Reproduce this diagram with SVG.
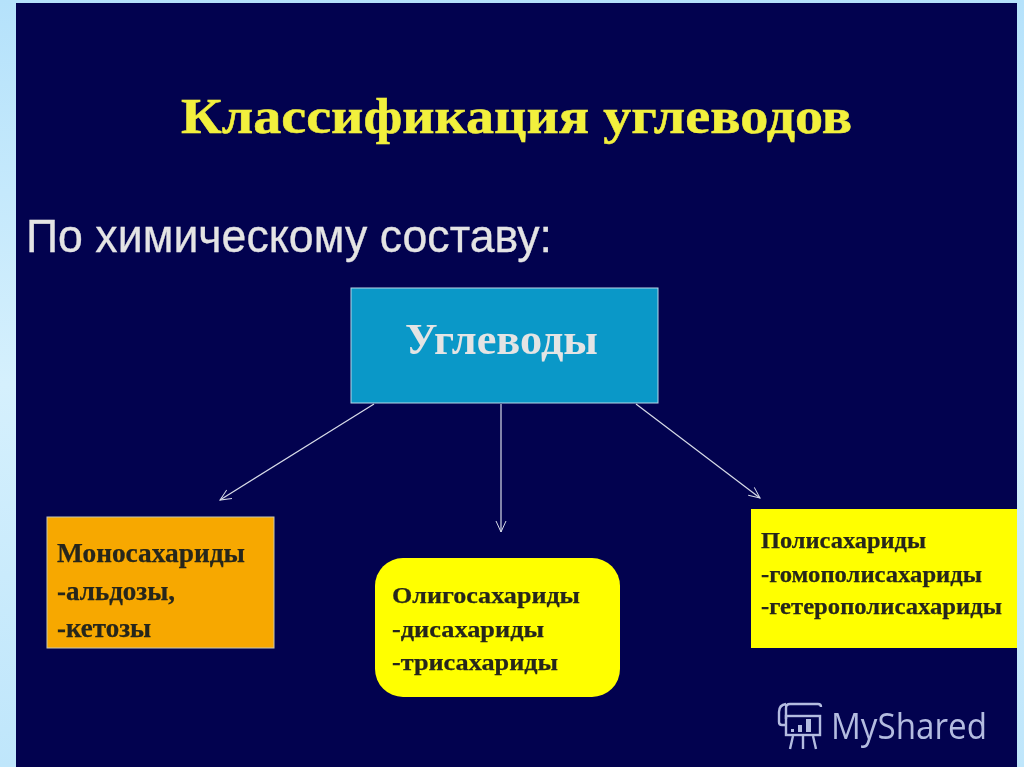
<svg xmlns="http://www.w3.org/2000/svg" width="1024" height="767" viewBox="0 0 1024 767">
<defs>
<linearGradient id="bg" x1="0" y1="0" x2="0" y2="1"><stop offset="0" stop-color="#b5e2fb"/><stop offset="0.5" stop-color="#d5f0fd"/><stop offset="1" stop-color="#bfe6fb"/></linearGradient>
<marker id="arr" markerWidth="14" markerHeight="14" refX="12" refY="6" orient="auto" markerUnits="userSpaceOnUse"><path d="M1 1L12 6L1 11" fill="none" stroke="#d8dce8" stroke-width="1"/></marker>
<filter id="soft" x="-5%" y="-20%" width="110%" height="140%"><feGaussianBlur stdDeviation="0.55"/></filter>
</defs>
<style>
.s{font-family:"Liberation Serif",serif;font-weight:bold;fill:#26261c;stroke:#26261c;stroke-width:0.25;filter:url(#soft)}
.c{stroke:#d8dce8;stroke-width:1.2;fill:none;marker-end:url(#arr)}
.l{fill:none;stroke:#b4bce0;stroke-width:2.4}
</style>
<rect width="1024" height="767" fill="url(#bg)"/>
<rect x="16" y="3" width="1001" height="764" fill="#02024f"/>
<text x="181" y="133" font-family="'Liberation Serif',serif" font-weight="bold" font-size="50" fill="#f2f03c" stroke="#f2f03c" stroke-width="0.5" filter="url(#soft)" textLength="671" lengthAdjust="spacingAndGlyphs">Классификация углеводов</text>
<text x="26" y="252" font-family="'Liberation Sans',sans-serif" font-size="47" fill="#e4e4e4" stroke="#e4e4e4" stroke-width="0.3" filter="url(#soft)" textLength="526" lengthAdjust="spacingAndGlyphs">По химическому составу:</text>
<g id="connectors">
<line class="c" x1="374" y1="404" x2="220" y2="500"/>
<line class="c" x1="501" y1="404" x2="501" y2="532"/>
<line class="c" x1="636" y1="404" x2="760" y2="498"/>
</g>
<g id="root"><rect x="351" y="288" width="307" height="115" fill="#0a98c8" stroke="#b8d8e8" stroke-width="1"/>
<text x="405" y="354" font-family="'Liberation Serif',serif" font-weight="bold" font-size="44" fill="#e4e4e4" filter="url(#soft)" textLength="193" lengthAdjust="spacingAndGlyphs">Углеводы</text></g>
<g id="mono"><rect x="47" y="517" width="227" height="131" fill="#f7a800" stroke="#c8c8b0"/>
<text class="s" x="57" y="562" font-size="27" textLength="188" lengthAdjust="spacingAndGlyphs">Моносахариды</text>
<text class="s" x="57" y="600" font-size="27" textLength="118" lengthAdjust="spacingAndGlyphs">-альдозы,</text>
<text class="s" x="57" y="637" font-size="27" textLength="94" lengthAdjust="spacingAndGlyphs">-кетозы</text></g>
<g id="oligo"><rect x="375" y="558" width="245" height="139" rx="28" fill="#ffff00"/>
<text class="s" x="392" y="603" font-size="24" textLength="188" lengthAdjust="spacingAndGlyphs">Олигосахариды</text>
<text class="s" x="392" y="637" font-size="24" textLength="152" lengthAdjust="spacingAndGlyphs">-дисахариды</text>
<text class="s" x="392" y="670" font-size="24" textLength="166" lengthAdjust="spacingAndGlyphs">-трисахариды</text></g>
<g id="poly"><rect x="751" y="509" width="266" height="139" fill="#ffff00"/>
<text class="s" x="761" y="548" font-size="24" textLength="165" lengthAdjust="spacingAndGlyphs">Полисахариды</text>
<text class="s" x="761" y="582" font-size="24" textLength="221" lengthAdjust="spacingAndGlyphs">-гомополисахариды</text>
<text class="s" x="761" y="614" font-size="24" textLength="241" lengthAdjust="spacingAndGlyphs">-гетерополисахариды</text></g>
<g id="logo"><text x="831" y="739" font-family="'Open Sans',sans-serif" font-size="36" fill="#b4bce0" filter="url(#soft)" textLength="156" lengthAdjust="spacingAndGlyphs">MyShared</text>
<path class="l" d="M786 719V708q0-4 4-4h28q3 0 3 3M786 704q-7 1-7 8v10q0 3 3 3h5"/>
<rect class="l" x="786" y="716" width="34" height="19"/>
<path d="M791 729h3v3h-3zM798 725h4v7h-4zM806 719h5v13h-5z" fill="#b4bce0"/>
<path class="l" d="M793 736l-3 13M803 736v13M813 736l3 13"/></g>
</svg>
